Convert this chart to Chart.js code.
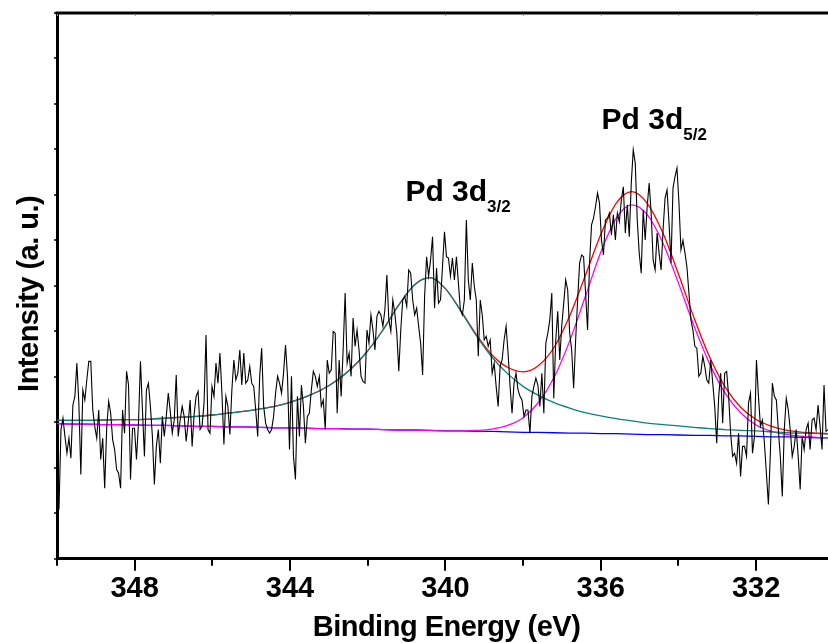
<!DOCTYPE html>
<html>
<head>
<meta charset="utf-8">
<script src="https://cdn.jsdelivr.net/npm/chart.js@4.4.0/dist/chart.umd.min.js"></script>
<style>
  html, body { margin: 0; padding: 0; background: #fff; }
  #chart { display: block; }
</style>
</head>
<body>
<canvas id="chart" width="828" height="643"></canvas>
<script>
// measured Pd 3d spectrum, evenly sampled from spectrumStart down to spectrumEnd (eV)
var spectrumStart = 350;
var spectrumEnd = 330.15;
var spectrumCounts = [
    2.00, 1.08, 2.84, 3.09, 2.69, 2.32, 2.65, 2.21, 3.38, 3.57,
    4.30, 3.42, 1.85, 3.71, 3.49, 3.93, 4.34, 4.34, 3.27, 2.91,
    2.65, 3.27, 2.18, 2.65, 1.55, 2.87, 3.46, 3.20, 2.62, 2.40,
    1.96, 1.88, 1.55, 3.27, 2.76, 4.12, 3.82, 1.74, 2.87, 2.87,
    2.18, 2.98, 4.34, 3.27, 2.25, 3.71, 3.86, 3.35, 2.69, 1.63,
    2.47, 2.84, 2.10, 3.13, 2.69, 3.13, 3.64, 3.24, 2.76, 3.05,
    4.04, 2.69, 3.05, 3.35, 3.13, 2.58, 2.98, 3.49, 2.47, 3.17,
    3.57, 3.68, 2.84, 2.91, 3.42, 4.92, 2.84, 2.76, 3.79,
    3.57, 4.30, 3.86, 4.52, 3.64, 2.51, 3.57, 3.35, 2.73, 3.71,
    4.37, 3.93, 4.08, 4.59, 3.82, 4.52, 3.86, 3.93, 4.23, 3.86,
    3.79, 3.27, 2.69, 4.01, 4.63, 3.35, 2.98, 2.84, 2.76, 2.84,
    3.13, 3.64, 4.01, 3.86, 3.64, 4.08, 4.70, 4.01, 2.40, 4.01,
    2.25, 1.74, 3.57, 2.69, 3.82, 3.35, 2.54, 3.13, 3.20, 3.71,
    4.12, 4.01, 3.79, 4.01, 3.35, 3.49, 2.84, 4.37, 4.08, 4.15,
    5.00, 4.96, 3.20, 4.37, 3.57, 4.59, 5.84, 4.30, 4.52, 4.01,
    5.29, 4.67, 5.03, 4.59, 4.01, 3.90, 3.86, 5.03, 4.74, 5.36,
    5.03, 4.59, 5.33, 5.44, 5.36, 5.11, 5.47, 6.24, 5.25, 5.00,
    5.69, 5.40, 4.96, 4.12, 5.03, 5.69, 5.77, 5.55, 6.35, 6.28,
    5.69, 5.36, 5.51, 5.11, 4.74, 4.04, 5.77, 6.64, 6.21, 6.57,
    7.08, 5.51, 6.39, 5.62, 5.69, 6.42, 7.19, 6.64, 6.61, 6.21,
    6.61, 6.13, 6.64, 6.06, 5.47, 5.36, 5.69, 7.45, 6.13, 5.69,
    6.50, 5.99, 5.69, 4.45, 5.69, 5.36, 4.81, 4.89, 4.67, 4.81,
    4.08, 4.30, 3.79, 3.35, 4.23, 4.37, 4.81, 5.11, 4.52, 3.79,
    3.20, 3.86, 4.08, 3.71, 3.57, 3.49, 3.13, 3.27,
    3.27, 2.76, 3.57, 3.79, 3.97, 3.82, 3.35, 4.08, 3.20, 4.74,
    4.96, 5.25, 5.84, 3.53, 4.81, 5.44, 4.37, 5.11, 5.62, 6.13,
    5.91, 4.96, 4.59, 3.75, 4.81, 5.69, 6.50, 6.68, 6.64, 5.84,
    5.03, 6.50, 7.34, 7.49, 7.74, 8.04, 7.82, 7.01, 6.68, 7.45,
    7.49, 7.60, 7.12, 7.56, 7.01, 7.60, 7.41, 7.89, 8.18, 7.16,
    7.78, 7.08, 8.26, 8.99, 8.70, 7.45, 6.72, 6.28, 7.67, 7.01,
    7.74, 8.26, 7.60, 6.57, 6.35, 7.16, 6.72, 6.35, 7.23, 7.93,
    8.11, 7.38, 6.50, 8.15, 8.40, 8.59, 7.82, 6.79,
    7.00, 6.73, 6.42, 5.85, 5.25, 5.03, 4.67, 4.63, 4.01, 4.08,
    4.45, 4.23, 3.93, 3.86, 4.37, 3.86, 3.35, 2.54, 3.57, 4.08,
    2.98, 4.08, 4.12, 3.57, 2.76, 2.25, 2.32, 2.10, 2.76, 1.81,
    2.47, 2.47, 2.25, 3.42, 3.64, 2.32, 2.69, 4.37, 3.57, 2.91,
    3.05, 2.54, 1.88, 1.19, 2.32, 3.86, 3.57, 3.49, 2.84, 2.25,
    1.37, 2.84, 3.53, 3.27, 2.84, 2.25, 2.47, 2.84, 2.25, 1.52,
    2.69, 2.40, 2.84, 2.98, 2.40, 3.05, 3.09, 2.84, 3.38, 2.91,
    2.40, 3.82, 2.80, 2.84
];

// fitted curves, read at these energies
var fitEnergy = [
    350.0, 349.6, 349.2, 348.8, 348.4, 348.0, 347.6, 347.2, 346.8, 346.4,
    346.0, 345.6, 345.2, 344.8, 344.4, 344.0, 343.6, 343.2, 342.8, 342.4,
    342.0, 341.6, 341.2, 340.8, 340.4, 340.0, 339.6, 339.2, 338.8, 338.4,
    338.0, 337.6, 337.2, 336.8, 336.4, 336.0, 335.6, 335.2, 334.8, 334.4,
    334.0, 333.6, 333.2, 332.8, 332.4, 332.0, 331.6, 331.2, 330.8, 330.4,
    330.0
];
var fitBackground = [
    2.97, 2.96, 2.96, 2.95, 2.95, 2.94, 2.93, 2.93, 2.92, 2.91,
    2.91, 2.90, 2.90, 2.89, 2.88, 2.88, 2.87, 2.86, 2.86, 2.85,
    2.85, 2.84, 2.83, 2.83, 2.82, 2.81, 2.81, 2.80, 2.80, 2.79,
    2.78, 2.78, 2.77, 2.76, 2.76, 2.75, 2.75, 2.74, 2.73, 2.73,
    2.72, 2.71, 2.71, 2.70, 2.70, 2.69, 2.68, 2.68, 2.67, 2.66,
    2.66
];
var fitPd32 = [
    3.04, 3.04, 3.04, 3.05, 3.06, 3.06, 3.07, 3.09, 3.11, 3.13,
    3.16, 3.20, 3.24, 3.29, 3.35, 3.44, 3.56, 3.71, 3.92, 4.20,
    4.57, 5.04, 5.58, 6.02, 6.18, 5.94, 5.44, 4.90, 4.43, 4.07,
    3.79, 3.59, 3.43, 3.31, 3.21, 3.14, 3.08, 3.03, 2.98, 2.95,
    2.92, 2.89, 2.86, 2.84, 2.82, 2.81, 2.79, 2.77, 2.76, 2.75,
    2.74
];
var fitPd52 = [
    2.97, 2.96, 2.96, 2.95, 2.95, 2.94, 2.93, 2.93, 2.92, 2.91,
    2.91, 2.90, 2.90, 2.89, 2.88, 2.88, 2.87, 2.86, 2.86, 2.85,
    2.85, 2.84, 2.83, 2.83, 2.82, 2.81, 2.81, 2.82, 2.85, 2.93,
    3.10, 3.44, 3.99, 4.79, 5.76, 6.74, 7.49, 7.78, 7.56, 6.94,
    6.06, 5.12, 4.29, 3.64, 3.21, 2.94, 2.80, 2.73, 2.69, 2.67,
    2.66
];
var fitEnvelope = [
    3.04, 3.04, 3.04, 3.05, 3.06, 3.06, 3.07, 3.09, 3.11, 3.13,
    3.16, 3.20, 3.24, 3.29, 3.35, 3.44, 3.56, 3.71, 3.92, 4.20,
    4.57, 5.04, 5.58, 6.02, 6.18, 5.94, 5.45, 4.92, 4.48, 4.21,
    4.11, 4.25, 4.65, 5.34, 6.22, 7.13, 7.82, 8.07, 7.81, 7.16,
    6.26, 5.30, 4.44, 3.78, 3.33, 3.06, 2.91, 2.82, 2.78, 2.76,
    2.74
];

var xMajorTicks = [348, 344, 340, 336, 332];
var xMinorTicks = [350, 346, 342, 338, 334];
var yTicks = [0, 1, 2, 3, 4, 5, 6, 7, 8, 9, 10, 11, 12];

var xTitle = 'Binding Energy (eV)';
var yTitle = 'Intensity (a. u.)';
var peakNames = ['Pd 3d', 'Pd 3d'];
var peakSubs = ['3/2', '5/2'];
var peakLabelEnergy = [341.03, 335.98];
var peakLabelLevel = [7.87, 9.45];

function toPoints(xs, ys) {
    return ys.map(function (y, i) {
        return { x: xs[i], y: y };
    });
}

var spectrumEnergy = spectrumCounts.map(function (c, i) {
    return spectrumStart + (spectrumEnd - spectrumStart) * i / (spectrumCounts.length - 1);
});

var FONT = '"Liberation Sans", Arial, sans-serif';

// frame top line, tick marks, axis titles and peak labels
var decorPlugin = {
    id: 'decor',
    afterDraw: function (chart) {
        var ctx = chart.ctx;
        var area = chart.chartArea;
        var xs = chart.scales.x;
        var ys = chart.scales.y;

        ctx.save();
        ctx.strokeStyle = '#000';
        ctx.lineWidth = 3;
        ctx.beginPath();
        ctx.moveTo(area.left - 1.5, area.top);
        ctx.lineTo(area.right, area.top);
        ctx.stroke();

        // bottom ticks
        ctx.lineWidth = 2;
        xMajorTicks.forEach(function (v) {
            var px = Math.round(xs.getPixelForValue(v));
            ctx.beginPath();
            ctx.moveTo(px, area.bottom);
            ctx.lineTo(px, area.bottom + 12);
            ctx.stroke();
        });
        xMinorTicks.forEach(function (v) {
            var px = Math.round(xs.getPixelForValue(v));
            ctx.beginPath();
            ctx.moveTo(px, area.bottom);
            ctx.lineTo(px, area.bottom + 7);
            ctx.stroke();
        });

        // faint ticks on the top edge
        ctx.strokeStyle = '#999';
        ctx.lineWidth = 1;
        xMajorTicks.concat(xMinorTicks).forEach(function (v) {
            var px = Math.round(xs.getPixelForValue(v)) + 0.5;
            ctx.beginPath();
            ctx.moveTo(px, area.top + 1);
            ctx.lineTo(px, area.top + 3);
            ctx.stroke();
        });

        // left ticks
        ctx.strokeStyle = '#000';
        ctx.lineWidth = 1.5;
        yTicks.forEach(function (v) {
            var py = Math.round(ys.getPixelForValue(v));
            ctx.beginPath();
            ctx.moveTo(area.left - 3, py);
            ctx.lineTo(area.left + 2, py);
            ctx.stroke();
        });

        // axis titles
        ctx.fillStyle = '#000';
        ctx.font = 'bold 29px ' + FONT;
        ctx.textAlign = 'center';
        ctx.textBaseline = 'alphabetic';
        ctx.letterSpacing = '-0.5px';
        ctx.fillText(xTitle, (area.left + area.right) / 2 + 4, area.bottom + 77);

        ctx.save();
        ctx.translate(area.left - 19, (area.top + area.bottom) / 2 + 8);
        ctx.rotate(-Math.PI / 2);
        ctx.fillText(yTitle, 0, 0);
        ctx.restore();
        ctx.letterSpacing = '0px';

        // peak labels with subscripts
        ctx.textAlign = 'left';
        peakNames.forEach(function (name, i) {
            var px = xs.getPixelForValue(peakLabelEnergy[i]);
            var py = ys.getPixelForValue(peakLabelLevel[i]);
            ctx.font = 'bold 30px ' + FONT;
            ctx.fillText(name, px, py);
            var w = ctx.measureText(name).width;
            ctx.font = 'bold 17px ' + FONT;
            ctx.fillText(peakSubs[i], px + w, py + 11);
        });
        ctx.restore();
    }
};

var lineStyle = {
    pointRadius: 0,
    pointHoverRadius: 0,
    fill: false
};

var ctx = document.getElementById('chart').getContext('2d');

var chart = new Chart(ctx, {
    type: 'line',
    data: {
        datasets: [
            Object.assign({
                label: 'Spectrum',
                data: toPoints(spectrumEnergy, spectrumCounts),
                borderColor: '#000000',
                borderWidth: 1.1,
                tension: 0,
                order: 0
            }, lineStyle),
            Object.assign({
                label: 'Pd 3d3/2',
                data: toPoints(fitEnergy, fitPd32),
                borderColor: '#0a8080',
                borderWidth: 1.3,
                cubicInterpolationMode: 'monotone',
                order: 1
            }, lineStyle),
            Object.assign({
                label: 'Envelope',
                data: toPoints(fitEnergy, fitEnvelope),
                borderColor: '#ff0000',
                borderWidth: 1.3,
                cubicInterpolationMode: 'monotone',
                order: 2
            }, lineStyle),
            Object.assign({
                label: 'Pd 3d5/2',
                data: toPoints(fitEnergy, fitPd52),
                borderColor: '#ff00ff',
                borderWidth: 1.3,
                cubicInterpolationMode: 'monotone',
                order: 3
            }, lineStyle),
            Object.assign({
                label: 'Background',
                data: toPoints(fitEnergy, fitBackground),
                borderColor: '#0000ff',
                borderWidth: 1.3,
                tension: 0,
                order: 4
            }, lineStyle)
        ]
    },
    options: {
        responsive: false,
        animation: false,
        devicePixelRatio: 1,
        layout: {
            padding: { left: 49, right: 0, top: 13, bottom: 32.5 }
        },
        plugins: {
            legend: { display: false },
            tooltip: { enabled: false }
        },
        scales: {
            x: {
                type: 'linear',
                reverse: true,
                min: 330.15,
                max: 350,
                afterBuildTicks: function (scale) {
                    scale.ticks = xMinorTicks.concat(xMajorTicks).sort(function (a, b) { return a - b; })
                        .map(function (v) { return { value: v }; });
                },
                ticks: {
                    autoSkip: false,
                    maxRotation: 0,
                    padding: 4.5,
                    color: '#000',
                    font: { family: FONT, size: 29, weight: 'bold' },
                    callback: function (v) {
                        return xMajorTicks.indexOf(v) >= 0 ? String(v) : '';
                    }
                },
                grid: { display: false },
                border: { display: true, color: '#000', width: 3 }
            },
            y: {
                min: 0,
                max: 12,
                afterBuildTicks: function (scale) {
                    scale.ticks = yTicks.map(function (v) { return { value: v }; });
                },
                ticks: { display: false },
                grid: { display: false },
                border: { display: true, color: '#000', width: 3 }
            }
        }
    },
    plugins: [decorPlugin]
});
</script>
</body>
</html>
